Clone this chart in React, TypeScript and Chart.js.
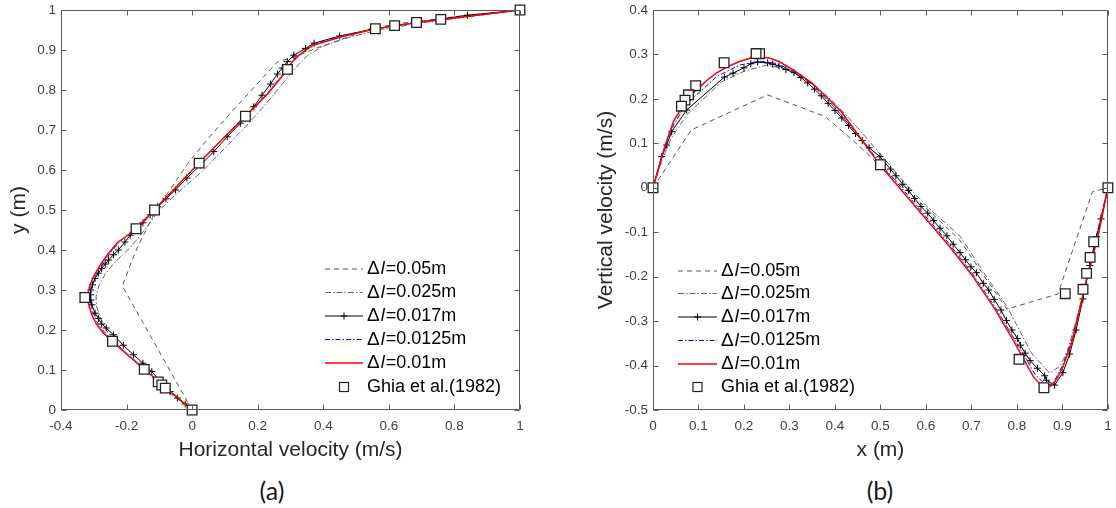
import React, { useEffect, useRef } from 'react';
import { Chart, registerables } from 'chart.js';
Chart.register(...registerables);

const FONT = '"Liberation Sans", Arial, sans-serif';

// ---------- (a) horizontal velocity along vertical centreline ----------
const a_dl050_u = [0, -0.213, -0.19, -0.165, -0.11, -0.06, -0.01, 0.05, 0.117, 0.17, 0.218, 0.26, 0.32, 0.38, 0.45, 0.55, 0.65, 0.8, 1];
const a_dl050_y = [0, 0.31, 0.36, 0.41, 0.5, 0.56, 0.62, 0.68, 0.742, 0.79, 0.833, 0.87, 0.885, 0.905, 0.925, 0.955, 0.968, 0.983, 1];

const a_dl025_u = [0, -0.04, -0.08, -0.12, -0.16, -0.2, -0.235, -0.262, -0.28, -0.292, -0.293, -0.285, -0.265, -0.235, -0.19, -0.145, -0.1, -0.035, 0.035, 0.1, 0.165, 0.225, 0.275, 0.315, 0.35, 0.4, 0.48, 0.58, 0.72, 0.86, 1];
const a_dl025_y = [0, 0.025, 0.05, 0.08, 0.11, 0.14, 0.17, 0.2, 0.23, 0.26, 0.285, 0.31, 0.34, 0.37, 0.405, 0.45, 0.5, 0.55, 0.6, 0.655, 0.71, 0.765, 0.815, 0.855, 0.885, 0.91, 0.932, 0.952, 0.97, 0.985, 1];

const a_dl017_u = [0, -0.021, -0.045, -0.067, -0.095, -0.123, -0.15, -0.179, -0.21, -0.24, -0.262, -0.276, -0.286, -0.296, -0.306, -0.309, -0.31, -0.309, -0.304, -0.296, -0.286, -0.276, -0.265, -0.255, -0.24, -0.225, -0.205, -0.189, -0.17, -0.15, -0.128, -0.105, -0.08, -0.051, -0.016, 0.025, 0.066, 0.107, 0.147, 0.188, 0.213, 0.239, 0.26, 0.275, 0.29, 0.31, 0.346, 0.372, 0.45, 0.55, 0.687, 0.84, 1];
const a_dl017_y = [0, 0.015, 0.03, 0.046, 0.07, 0.096, 0.117, 0.138, 0.162, 0.188, 0.205, 0.215, 0.229, 0.242, 0.263, 0.275, 0.288, 0.3, 0.313, 0.329, 0.342, 0.354, 0.365, 0.375, 0.388, 0.4, 0.42, 0.437, 0.452, 0.468, 0.488, 0.508, 0.528, 0.55, 0.58, 0.612, 0.646, 0.683, 0.717, 0.758, 0.787, 0.815, 0.84, 0.855, 0.871, 0.887, 0.904, 0.917, 0.935, 0.952, 0.969, 0.987, 1];

const a_dl0125_u = [0, -0.05, -0.1, -0.15, -0.2, -0.24, -0.27, -0.29, -0.303, -0.31, -0.31, -0.305, -0.293, -0.276, -0.252, -0.222, -0.171, -0.115, -0.05, 0.02, 0.09, 0.163, 0.23, 0.285, 0.31, 0.345, 0.38, 0.45, 0.56, 0.68, 0.8, 1];
const a_dl0125_y = [0, 0.034, 0.069, 0.106, 0.142, 0.172, 0.197, 0.22, 0.245, 0.27, 0.29, 0.312, 0.335, 0.36, 0.39, 0.42, 0.455, 0.502, 0.557, 0.617, 0.676, 0.736, 0.792, 0.848, 0.877, 0.9, 0.918, 0.934, 0.953, 0.968, 0.98, 1];

const a_dl010_u = [0, -0.05, -0.1, -0.15, -0.2, -0.24, -0.27, -0.292, -0.307, -0.316, -0.318, -0.312, -0.3, -0.282, -0.257, -0.226, -0.19, -0.171, -0.115, -0.05, 0.02, 0.09, 0.163, 0.23, 0.285, 0.305, 0.33, 0.37, 0.45, 0.56, 0.68, 0.8, 0.9, 1];
const a_dl010_y = [0, 0.035, 0.07, 0.105, 0.14, 0.168, 0.192, 0.215, 0.24, 0.265, 0.29, 0.312, 0.335, 0.36, 0.39, 0.42, 0.44, 0.453, 0.5, 0.556, 0.617, 0.675, 0.734, 0.79, 0.845, 0.87, 0.89, 0.912, 0.932, 0.953, 0.968, 0.98, 0.99, 1];

const a_ghia_u = [1, 0.75837, 0.68439, 0.61756, 0.55892, 0.29093, 0.16256, 0.02135, -0.11477, -0.17119, -0.32726, -0.24299, -0.14612, -0.10338, -0.09266, -0.08186, 0];
const a_ghia_y = [1, 0.9766, 0.9688, 0.9609, 0.9531, 0.8516, 0.7344, 0.6172, 0.5, 0.4531, 0.2813, 0.1719, 0.1016, 0.0703, 0.0625, 0.0547, 0];

// ---------- (b) vertical velocity along horizontal centreline ----------
const b_dl050_x = [0, 0.084, 0.252, 0.379, 0.451, 0.53, 0.6, 0.673, 0.778, 0.89, 0.966, 1];
const b_dl050_v = [0, 0.13, 0.209, 0.16, 0.096, 0.02, -0.045, -0.116, -0.273, -0.239, -0.009, 0];

const b_dl025_x = [0, 0.02, 0.04, 0.075, 0.15, 0.2, 0.25, 0.3, 0.35, 0.4, 0.45, 0.5, 0.55, 0.6, 0.676, 0.72, 0.778, 0.832, 0.872, 0.894, 0.91, 0.93, 0.95, 0.97, 0.985, 1];
const b_dl025_v = [0, 0.062, 0.112, 0.165, 0.238, 0.262, 0.276, 0.265, 0.235, 0.19, 0.135, 0.075, 0.015, -0.04, -0.11, -0.18, -0.267, -0.372, -0.417, -0.402, -0.37, -0.3, -0.22, -0.13, -0.06, 0];

const b_dl017_x = [0, 0.019, 0.03, 0.041, 0.074, 0.157, 0.176, 0.2, 0.215, 0.23, 0.252, 0.263, 0.277, 0.292, 0.31, 0.325, 0.34, 0.355, 0.37, 0.385, 0.4, 0.415, 0.43, 0.445, 0.46, 0.475, 0.499, 0.522, 0.534, 0.549, 0.562, 0.575, 0.589, 0.604, 0.617, 0.631, 0.646, 0.66, 0.675, 0.687, 0.699, 0.711, 0.726, 0.738, 0.75, 0.765, 0.777, 0.789, 0.801, 0.808, 0.818, 0.829, 0.845, 0.861, 0.865, 0.883, 0.901, 0.916, 0.93, 0.945, 0.96, 0.975, 0.985, 1];
const b_dl017_v = [0, 0.07, 0.096, 0.126, 0.175, 0.249, 0.258, 0.27, 0.279, 0.283, 0.281, 0.278, 0.274, 0.266, 0.259, 0.248, 0.236, 0.222, 0.207, 0.19, 0.174, 0.157, 0.14, 0.122, 0.106, 0.09, 0.07, 0.042, 0.027, 0.008, -0.006, -0.024, -0.042, -0.057, -0.074, -0.091, -0.108, -0.127, -0.146, -0.162, -0.178, -0.191, -0.215, -0.23, -0.251, -0.275, -0.299, -0.32, -0.339, -0.354, -0.372, -0.389, -0.406, -0.423, -0.433, -0.444, -0.416, -0.374, -0.32, -0.25, -0.175, -0.11, -0.07, 0];

const b_dl0125_x = [0, 0.02, 0.045, 0.07, 0.103, 0.14, 0.19, 0.234, 0.27, 0.31, 0.35, 0.4, 0.45, 0.5, 0.55, 0.6, 0.65, 0.7, 0.75, 0.8, 0.84, 0.865, 0.88, 0.9, 0.92, 0.94, 0.96, 0.98, 1];
const b_dl0125_v = [0, 0.07, 0.14, 0.185, 0.216, 0.25, 0.276, 0.285, 0.28, 0.262, 0.233, 0.18, 0.12, 0.055, -0.005, -0.065, -0.125, -0.19, -0.265, -0.35, -0.42, -0.445, -0.44, -0.4, -0.345, -0.265, -0.18, -0.095, 0];

const b_dl010_x = [0, 0.019, 0.03, 0.045, 0.06, 0.074, 0.09, 0.103, 0.12, 0.139, 0.165, 0.19, 0.215, 0.234, 0.255, 0.277, 0.31, 0.349, 0.38, 0.414, 0.451, 0.499, 0.55, 0.6, 0.65, 0.7, 0.75, 0.793, 0.82, 0.836, 0.852, 0.865, 0.875, 0.888, 0.901, 0.92, 0.9375, 0.952, 0.967, 0.98, 0.99, 1];
const b_dl010_v = [0, 0.07, 0.105, 0.149, 0.175, 0.198, 0.215, 0.227, 0.243, 0.258, 0.273, 0.284, 0.292, 0.295, 0.292, 0.284, 0.264, 0.236, 0.206, 0.171, 0.119, 0.051, -0.01, -0.07, -0.13, -0.195, -0.27, -0.345, -0.395, -0.425, -0.443, -0.449, -0.445, -0.43, -0.403, -0.35, -0.275, -0.21, -0.155, -0.1, -0.05, 0];

const b_ghia_x = [1, 0.9688, 0.9609, 0.9531, 0.9453, 0.9063, 0.8594, 0.8047, 0.5, 0.2344, 0.2266, 0.1563, 0.0938, 0.0781, 0.0703, 0.0625, 0];
const b_ghia_v = [0, -0.12146, -0.15663, -0.19254, -0.22847, -0.23827, -0.44993, -0.38598, 0.05188, 0.30174, 0.30203, 0.28124, 0.22965, 0.2092, 0.19713, 0.1836, 0];

const LABELS = ['\u0394l=0.05m', '\u0394l=0.025m', '\u0394l=0.017m', '\u0394l=0.0125m', '\u0394l=0.01m', 'Ghia et al.(1982)'];

const xTicksA = [-0.4, -0.2, 0, 0.2, 0.4, 0.6, 0.8, 1];
const yTicksA = [0, 0.1, 0.2, 0.3, 0.4, 0.5, 0.6, 0.7, 0.8, 0.9, 1];
const xTicksB = [0, 0.1, 0.2, 0.3, 0.4, 0.5, 0.6, 0.7, 0.8, 0.9, 1];
const yTicksB = [-0.5, -0.4, -0.3, -0.2, -0.1, 0, 0.1, 0.2, 0.3, 0.4];

function zip(xs: number[], ys: number[]) {
  return xs.map((x, i) => ({ x, y: ys[i] }));
}

const fmt = (v: number) => String(Math.round(v * 10) / 10);

function makeDatasets(series: { x: number[]; y: number[] }[]) {
  const styles: any[] = [
    { borderColor: '#555555', borderWidth: 1, borderDash: [5, 4], order: 5 },
    { borderColor: '#666666', borderWidth: 1, borderDash: [6, 2, 1.5, 2], order: 4 },
    { borderColor: '#000000', borderWidth: 1, pointStyle: 'cross', pointRadius: 3.5, pointBorderWidth: 1, pointBorderColor: '#000000', order: 3 },
    { borderColor: '#0000ff', borderWidth: 1, borderDash: [5, 2, 1.5, 2], order: 2 },
    { borderColor: '#ff0000', borderWidth: 1.5, order: 1 },
    { showLine: false, pointStyle: 'rect', pointRadius: 6.8, pointBorderWidth: 1.3, pointBorderColor: '#222222', pointBackgroundColor: '#ffffff', order: 0 },
  ];
  return series.map((s, i) => ({
    label: LABELS[i],
    data: zip(s.x, s.y),
    showLine: true,
    pointRadius: 0,
    fill: false,
    tension: 0,
    clip: false,
    ...styles[i],
  }));
}

const boxPlugin = {
  id: 'boxTicks',
  afterDraw(chart: any, _args: any, opts: any) {
    const { ctx, chartArea } = chart;
    const { left, right, top, bottom } = chartArea;
    const xs = chart.scales.x;
    const ys = chart.scales.y;
    ctx.save();
    ctx.strokeStyle = opts.color || '#666';
    ctx.lineWidth = 1;
    ctx.setLineDash([]);
    const L = Math.round(left) + 0.5, R = Math.round(right) - 0.5, T = Math.round(top) + 0.5, B = Math.round(bottom) - 0.5;
    ctx.beginPath();
    ctx.rect(L, T, R - L, B - T);
    const len = 5;
    xs.ticks.forEach((t: any) => {
      const p = Math.round(xs.getPixelForValue(t.value)) + 0.5;
      ctx.moveTo(p, B); ctx.lineTo(p, B - len);
      ctx.moveTo(p, T); ctx.lineTo(p, T + len);
    });
    ys.ticks.forEach((t: any) => {
      const p = Math.round(ys.getPixelForValue(t.value)) + 0.5;
      ctx.moveTo(L, p); ctx.lineTo(L + len, p);
      ctx.moveTo(R, p); ctx.lineTo(R - len, p);
    });
    ctx.stroke();
    ctx.restore();
  },
};

const legendPlugin = {
  id: 'inlineLegend',
  afterDraw(chart: any, _args: any, opts: any) {
    const { ctx } = chart;
    const { x0, x1, tx, rows } = opts;
    ctx.save();
    chart.data.datasets.forEach((ds: any, i: number) => {
      const yy = rows[i];
      const mx = (x0 + x1) / 2;
      if (ds.showLine) {
        ctx.strokeStyle = ds.borderColor;
        ctx.lineWidth = ds.borderWidth;
        ctx.setLineDash(ds.borderDash || []);
        ctx.beginPath();
        ctx.moveTo(x0, yy);
        ctx.lineTo(x1, yy);
        ctx.stroke();
      }
      ctx.setLineDash([]);
      if (ds.pointStyle === 'cross') {
        ctx.strokeStyle = ds.pointBorderColor;
        ctx.lineWidth = 1;
        const r = ds.pointRadius;
        ctx.beginPath();
        ctx.moveTo(mx - r, yy); ctx.lineTo(mx + r, yy);
        ctx.moveTo(mx, yy - r); ctx.lineTo(mx, yy + r);
        ctx.stroke();
      } else if (ds.pointStyle === 'rect') {
        const h = 4.5;
        ctx.fillStyle = ds.pointBackgroundColor;
        ctx.strokeStyle = ds.pointBorderColor;
        ctx.lineWidth = 1.2;
        ctx.fillRect(mx - h, yy - h, 2 * h, 2 * h);
        ctx.strokeRect(mx - h, yy - h, 2 * h, 2 * h);
      }
      ctx.fillStyle = '#000000';
      ctx.textBaseline = 'middle';
      ctx.textAlign = 'left';
      const label: string = ds.label;
      const normal = `18px ${FONT}`;
      const italic = `italic 18px ${FONT}`;
      let x = tx;
      if (label.startsWith('\u0394l')) {
        ctx.font = `19px ${FONT}`;
        ctx.fillText('\u0394', x, yy);
        x += ctx.measureText('\u0394').width + 1;
        ctx.font = italic;
        ctx.fillText('l', x, yy);
        x += ctx.measureText('l').width + 1;
        ctx.font = normal;
        ctx.fillText(label.slice(2), x, yy);
      } else {
        ctx.font = normal;
        ctx.fillText(label, x, yy);
      }
    });
    ctx.restore();
  },
};

const TITLE_SIZE = 21;

function makeConfig(p: {
  series: { x: number[]; y: number[] }[];
  xMin: number; xMax: number; xTicks: number[];
  yMin: number; yMax: number; yTicks: number[];
  xTitle: string; yTitle: string;
  yAxisWidth: number; yTitlePad: number;
  padding: any;
  legend: any;
}) {
  const tickFont = { family: FONT, size: 13.5 };
  return {
    type: 'scatter',
    data: { datasets: makeDatasets(p.series) },
    plugins: [boxPlugin, legendPlugin],
    options: {
      animation: false,
      responsive: false,
      maintainAspectRatio: false,
      layout: { padding: p.padding },
      plugins: {
        legend: { display: false },
        tooltip: { enabled: false },
        boxTicks: { color: '#5a5a5a' },
        inlineLegend: p.legend,
      },
      scales: {
        x: {
          type: 'linear',
          position: 'bottom',
          min: p.xMin,
          max: p.xMax,
          afterBuildTicks: (s: any) => { s.ticks = p.xTicks.map((v) => ({ value: v })); },
          afterFit: (s: any) => { s.height = 53; s.paddingLeft = 0; s.paddingRight = 0; },
          grid: { display: false, drawTicks: false },
          border: { display: false },
          ticks: { padding: 8, color: '#404040', font: tickFont, callback: fmt, maxRotation: 0, autoSkip: false },
          title: { display: true, text: p.xTitle, color: '#262626', font: { family: FONT, size: TITLE_SIZE }, padding: 0 },
        },
        y: {
          type: 'linear',
          position: 'left',
          min: p.yMin,
          max: p.yMax,
          afterBuildTicks: (s: any) => { s.ticks = p.yTicks.map((v) => ({ value: v })); },
          afterFit: (s: any) => { s.width = p.yAxisWidth; s.paddingTop = 0; s.paddingBottom = 0; },
          grid: { display: false, drawTicks: false },
          border: { display: false },
          ticks: { padding: 5, color: '#404040', font: tickFont, callback: fmt, autoSkip: false },
          title: { display: true, text: p.yTitle, color: '#262626', font: { family: FONT, size: TITLE_SIZE }, padding: { top: p.yTitlePad, bottom: 0 } },
        },
      },
    },
  } as any;
}

const configA = () =>
  makeConfig({
    series: [
      { x: a_dl050_u, y: a_dl050_y },
      { x: a_dl025_u, y: a_dl025_y },
      { x: a_dl017_u, y: a_dl017_y },
      { x: a_dl0125_u, y: a_dl0125_y },
      { x: a_dl010_u, y: a_dl010_y },
      { x: a_ghia_u, y: a_ghia_y },
    ],
    xMin: -0.4, xMax: 1, xTicks: xTicksA,
    yMin: 0, yMax: 1, yTicks: yTicksA,
    xTitle: 'Horizontal velocity (m/s)',
    yTitle: 'y (m)',
    yAxisWidth: 61,
    yTitlePad: 7,
    padding: { left: 0, right: 20, top: 10, bottom: 7 },
    legend: { x0: 325, x1: 363, tx: 367, rows: [269, 292.5, 316, 339.5, 363, 387] },
  });

const configB = () =>
  makeConfig({
    series: [
      { x: b_dl050_x, y: b_dl050_v },
      { x: b_dl025_x, y: b_dl025_v },
      { x: b_dl017_x, y: b_dl017_v },
      { x: b_dl0125_x, y: b_dl0125_v },
      { x: b_dl010_x, y: b_dl010_v },
      { x: b_ghia_x, y: b_ghia_v },
    ],
    xMin: 0, xMax: 1, xTicks: xTicksB,
    yMin: -0.5, yMax: 0.4, yTicks: yTicksB,
    xTitle: 'x (m)',
    yTitle: 'Vertical velocity (m/s)',
    yAxisWidth: 93,
    yTitlePad: 34,
    padding: { left: 0, right: 4, top: 10, bottom: 7 },
    legend: { x0: 118, x1: 157, tx: 161, rows: [271, 293.5, 317, 340.5, 364, 387] },
  });

function Panel({ makeCfg, left, width }: { makeCfg: () => any; left: number; width: number }) {
  const ref = useRef<HTMLCanvasElement | null>(null);
  useEffect(() => {
    const chart = new Chart(ref.current as HTMLCanvasElement, makeCfg());
    return () => chart.destroy();
  }, []);
  return (
    <canvas
      ref={ref}
      width={width}
      height={470}
      style={{ position: 'absolute', left, top: 0, width, height: 470 }}
    />
  );
}

export default function App() {
  const capStyle: React.CSSProperties = {
    position: 'absolute',
    top: 474,
    width: 60,
    textAlign: 'center',
    fontFamily: 'Lato, "Open Sans", sans-serif',
    fontSize: 25,
    lineHeight: '32px',
    color: '#1a1a1a',
  };
  return (
    <div style={{ position: 'fixed', left: 0, top: 0, width: 1116, height: 508, background: '#ffffff', overflow: 'hidden' }}>
      <Panel makeCfg={configA} left={0} width={540} />
      <Panel makeCfg={configB} left={560} width={556} />
      <div style={{ ...capStyle, left: 272 - 30 }}>(a)</div>
      <div style={{ ...capStyle, left: 880 - 30 }}>(b)</div>
    </div>
  );
}
